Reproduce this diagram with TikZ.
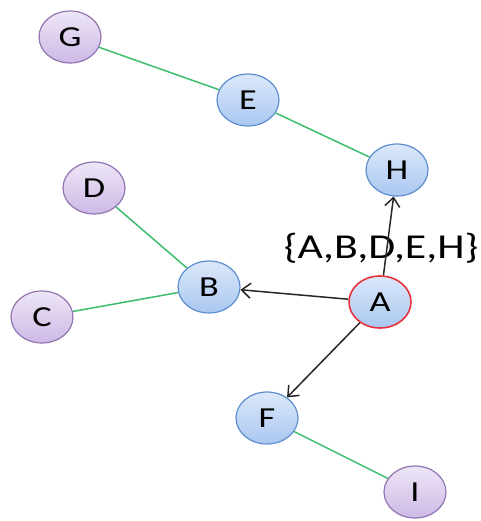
\documentclass[tikz,border=0pt]{standalone}
\usepackage{fontspec}
\setmainfont{Carlito}
\usetikzlibrary{arrows.meta,shapes.geometric}
\definecolor{bluefillT}{HTML}{DCE8FA}
\definecolor{bluefillB}{HTML}{A9C7F0}
\definecolor{blueline}{HTML}{5E8ECF}
\definecolor{purpfillT}{HTML}{EEE6F6}
\definecolor{purpfillB}{HTML}{CDB9E6}
\definecolor{purpline}{HTML}{9275B2}
\definecolor{redline}{HTML}{E8333B}
\definecolor{edgegreen}{HTML}{3DBE6E}
\begin{document}
\begin{tikzpicture}[x=1pt,y=-1pt,
  vert/.style={ellipse,minimum width=62pt,minimum height=52pt,inner sep=0pt,line width=1.2pt,
     font=\fontsize{29}{30}\selectfont},
  bnode/.style={vert,draw=blueline,top color=bluefillT,bottom color=bluefillB},
  pnode/.style={vert,draw=purpline,top color=purpfillT,bottom color=purpfillB},
  rnode/.style={vert,draw=redline,line width=1.6pt,top color=bluefillT,bottom color=bluefillB},
  gedge/.style={draw=edgegreen,line width=1.5pt},
  aedge/.style={draw=black!85,line width=1.5pt,-{Straight Barb[length=9pt,width=15pt,line width=1.5pt]}}
]
\useasboundingbox (0,0) rectangle (480,521);
\newcommand{\sx}[1]{\scalebox{1.25}[1]{#1}}
\node[pnode] (G) at (70,37) {\sx{G}};
\node[bnode] (E) at (248,100) {\sx{E}};
\node[bnode] (H) at (397,170) {\sx{H}};
\node[pnode] (D) at (94,188) {\sx{D}};
\node[bnode] (B) at (209,287) {\sx{B}};
\node[pnode] (C) at (42,317) {\sx{C}};
\node[rnode] (A) at (380,302) {\sx{A}};
\node[bnode] (F) at (267,418) {\sx{F}};
\node[pnode] (I) at (415,492) {\sx{I}};
\node[font=\fontsize{35}{37}\selectfont,inner sep=0pt] (lbl) at (381,248) {\scalebox{1.25}[1]{\{A,B,D,E,H\}}};
\draw[gedge] (G) -- (E);
\draw[gedge] (E) -- (H);
\draw[gedge] (D) -- (B);
\draw[gedge] (C) -- (B);
\draw[gedge] (F) -- (I);
\draw[aedge] (A) -- (B);
\draw[aedge] (A) -- (H);
\draw[aedge] (A) -- (F);
\end{tikzpicture}
\end{document}
